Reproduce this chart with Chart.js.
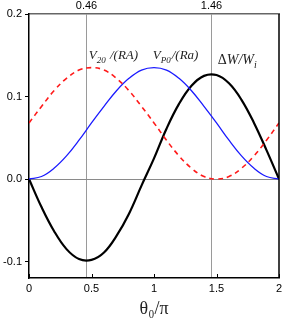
<!DOCTYPE html>
<html>
<head>
<meta charset="utf-8">
<script src="https://cdn.jsdelivr.net/npm/chart.js@4.4.1/dist/chart.umd.min.js"></script>
<style>
  html, body { margin: 0; padding: 0; background: #fff; }
  #wrap { width: 283px; height: 320px; }
</style>
</head>
<body>
<div id="wrap"><canvas id="fieldChart"></canvas></div>
<script>
// theta0 / pi
const thetaValues = [0, 0.1, 0.2, 0.3, 0.4, 0.5, 0.6, 0.7, 0.8, 0.9, 1.0,
                     1.1, 1.2, 1.3, 1.4, 1.5, 1.6, 1.7, 1.8, 1.9, 2.0];
// V20/(RA) - red dashed
const v20Values = [0.068, 0.088, 0.107, 0.122, 0.132, 0.135, 0.132, 0.122, 0.107, 0.088, 0.068,
                   0.047, 0.028, 0.013, 0.003, 0.0, 0.003, 0.013, 0.028, 0.047, 0.068];
// VP0/(Ra) - blue
const vp0Values = [0.0, 0.003, 0.013, 0.028, 0.047, 0.068, 0.088, 0.107, 0.122, 0.132, 0.135,
                   0.132, 0.122, 0.107, 0.088, 0.068, 0.047, 0.028, 0.013, 0.003, 0.0];
// dW/Wi - black
const dwValues = [0.0, -0.034, -0.063, -0.085, -0.097, -0.098, -0.089, -0.069, -0.042, -0.008, 0.025,
                  0.061, 0.091, 0.113, 0.125, 0.126, 0.116, 0.096, 0.068, 0.035, 0.0];

const bottomTicks = [0, 0.5, 1, 1.5, 2];
const topTicks = [0.46, 1.46];
const leftTicks = [-0.1, 0.0, 0.1, 0.2];

const toPoints = (ys) => thetaValues.map((x, i) => ({ x: x, y: ys[i] }));

// curve labels, drawn as runs of text (main / subscript)
const curveLabels = [
    { x: 0.478, y: 0.145, size: 13, runs: [['V', 'i'], ['20', 'is'], [' /(RA)', 'i']] },
    { x: 0.99, y: 0.146, size: 13, runs: [['V', 'i'], ['P0', 'is'], ['/(Ra)', 'i']] },
    { x: 1.51, y: 0.139, size: 14, runs: [['\u0394', 'n'], ['W/W', 'i'], ['i', 'is']] }
];

const labelPlugin = {
    id: 'labelPlugin',
    afterDraw(chart) {
        const ctx = chart.ctx;
        const xs = chart.scales.x, ys = chart.scales.y;
        const area = chart.chartArea;
        ctx.save();
        // x tick marks pointing inward
        ctx.strokeStyle = '#000';
        ctx.lineWidth = 1;
        bottomTicks.forEach(v => {
            const px = Math.round(xs.getPixelForValue(v)) + 0.5;
            ctx.beginPath();
            ctx.moveTo(px, area.bottom);
            ctx.lineTo(px, area.bottom - 4);
            ctx.stroke();
        });
        // right frame
        ctx.lineWidth = 1.5;
        ctx.beginPath();
        ctx.moveTo(area.right, area.top);
        ctx.lineTo(area.right, area.bottom);
        ctx.stroke();

        ctx.fillStyle = '#222';
        ctx.textBaseline = 'alphabetic';
        curveLabels.forEach(lab => {
            let px = xs.getPixelForValue(lab.x);
            const py = ys.getPixelForValue(lab.y);
            lab.runs.forEach(([t, style]) => {
                const sub = style.endsWith('s');
                const italic = style.startsWith('i') ? 'italic ' : '';
                const size = sub ? Math.round(lab.size * 0.72) : lab.size;
                ctx.font = italic + size + 'px "Liberation Serif", serif';
                ctx.fillText(t, px, py + (sub ? 4 : 0));
                px += ctx.measureText(t).width + (sub ? 1 : 0);
            });
        });
        ctx.restore();
    }
};

const tickFont = { family: '"Liberation Sans", Arial, sans-serif', size: 11 };
const noSidePad = (s, h) => { s.height = h; s.paddingLeft = 0; s.paddingRight = 0; };

new Chart(document.getElementById('fieldChart'), {
    type: 'line',
    data: {
        datasets: [
            {
                label: 'V20/(RA)',
                data: toPoints(v20Values),
                borderColor: '#ff1a1a',
                borderWidth: 1.6,
                borderDash: [5, 4],
                pointRadius: 0,
                tension: 0.4,
                fill: false
            },
            {
                label: 'VP0/(Ra)',
                data: toPoints(vp0Values),
                borderColor: '#1a1aff',
                borderWidth: 1.3,
                pointRadius: 0,
                tension: 0.4,
                fill: false
            },
            {
                label: 'dW/Wi',
                data: toPoints(dwValues),
                borderColor: '#000000',
                borderWidth: 2.2,
                pointRadius: 0,
                tension: 0.4,
                fill: false
            }
        ]
    },
    options: {
        responsive: true,
        maintainAspectRatio: false,
        animation: false,
        layout: { padding: { right: 4, left: 0, top: 0, bottom: 0 } },
        plugins: {
            legend: { display: false },
            tooltip: { enabled: false }
        },
        scales: {
            x: {
                type: 'linear',
                position: 'bottom',
                min: 0,
                max: 2,
                afterBuildTicks: (s) => { s.ticks = bottomTicks.map(v => ({ value: v })); },
                afterFit: (s) => noSidePad(s, 42),
                ticks: {
                    color: '#000',
                    font: tickFont,
                    padding: 4,
                    maxRotation: 0,
                    callback: (v) => String(v)
                },
                grid: { display: false, drawTicks: false },
                border: { display: true, color: '#000', width: 1.5 },
                title: {
                    display: true,
                    text: 'θ\u2080/π',
                    color: '#222',
                    font: { family: '"Liberation Serif", serif', size: 18 },
                    padding: { top: 2, bottom: 0 }
                }
            },
            x2: {
                type: 'linear',
                position: 'top',
                min: 0,
                max: 2,
                afterBuildTicks: (s) => { s.ticks = topTicks.map(v => ({ value: v })); },
                afterFit: (s) => noSidePad(s, 14),
                ticks: {
                    color: '#000',
                    font: tickFont,
                    padding: 1,
                    maxRotation: 0,
                    callback: (v) => v.toFixed(2)
                },
                grid: { color: '#9a9a9a', lineWidth: 1, drawTicks: false },
                border: { display: true, color: '#666', width: 1.5 }
            },
            y: {
                type: 'linear',
                position: 'left',
                min: -0.12,
                max: 0.2,
                afterBuildTicks: (s) => { s.ticks = leftTicks.map(v => ({ value: v })); },
                afterFit: (s) => { s.width = 29; },
                ticks: {
                    color: '#000',
                    font: tickFont,
                    padding: 3,
                    callback: (v) => v.toFixed(1)
                },
                grid: {
                    color: (c) => (c.tick && Math.abs(c.tick.value) < 1e-9) ? '#8a8a8a' : 'rgba(0,0,0,0)',
                    tickColor: '#000',
                    tickLength: 4,
                    lineWidth: 1
                },
                border: { display: true, color: '#000', width: 1.5 }
            }
        }
    },
    plugins: [labelPlugin]
});
</script>
</body>
</html>
